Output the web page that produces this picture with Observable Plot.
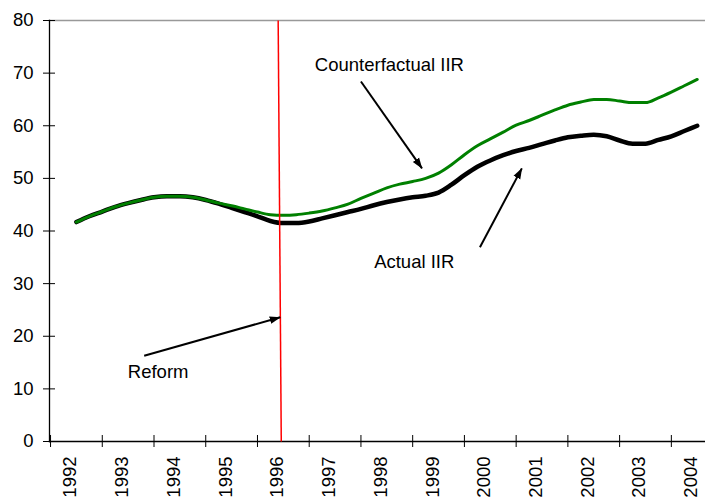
<!DOCTYPE html>
<html>
<head>
<meta charset="utf-8">
<script src="https://cdn.jsdelivr.net/npm/d3@7"></script>
<script src="https://cdn.jsdelivr.net/npm/@observablehq/plot@0.6"></script>
<style>
  body { margin: 0; background: #fff; }
  #chart svg { display: block; }
</style>
</head>
<body>
<div id="chart"></div>
<script>
// Time (quarterly positions) and the two series
const periods = [1992, 1992.25, 1992.5, 1992.75, 1993, 1993.25, 1993.5, 1993.75,
  1994, 1994.25, 1994.5, 1994.75, 1995, 1995.25, 1995.5, 1995.75,
  1996, 1996.25, 1996.5, 1996.75, 1997, 1997.25, 1997.5, 1997.75,
  1998, 1998.25, 1998.5, 1998.75, 1999, 1999.25, 1999.5, 1999.75,
  2000, 2000.25, 2000.5, 2000.75, 2001, 2001.25, 2001.5, 2001.75,
  2002, 2002.25, 2002.5, 2002.75, 2003, 2003.25, 2003.5, 2003.75, 2004];

const counterfactual = [41.7, 42.8, 43.7, 44.6, 45.3, 45.9, 46.4, 46.6,
  46.6, 46.4, 45.9, 45.3, 44.8, 44.2, 43.6, 43.1,
  43.0, 43.1, 43.4, 43.8, 44.4, 45.1, 46.2, 47.2,
  48.2, 48.9, 49.4, 50.0, 51.0, 52.6, 54.5, 56.2,
  57.5, 58.8, 60.1, 61.0, 62.0, 63.0, 63.9, 64.5,
  65.0, 65.0, 64.7, 64.4, 64.4, 65.3, 66.4, 67.6, 68.8];

const actual = [41.7, 42.8, 43.7, 44.6, 45.3, 45.9, 46.4, 46.6,
  46.6, 46.4, 45.9, 45.2, 44.4, 43.6, 42.8, 41.9,
  41.5, 41.5, 41.8, 42.4, 43.0, 43.6, 44.2, 44.9,
  45.5, 46.0, 46.4, 46.7, 47.3, 48.8, 50.6, 52.2,
  53.4, 54.4, 55.2, 55.8, 56.5, 57.2, 57.8, 58.1,
  58.3, 58.0, 57.2, 56.6, 56.6, 57.3, 58.0, 59.0, 60.0];

// Axis ticks and labels
const years = [1992, 1993, 1994, 1995, 1996, 1997, 1998, 1999, 2000, 2001, 2002, 2003, 2004];
const yearLabels = ["1992", "1993", "1994", "1995", "1996", "1997", "1998", "1999",
  "2000", "2001", "2002", "2003", "2004"];
const yearBoundaries = [1991.5, 1992.5, 1993.5, 1994.5, 1995.5, 1996.5, 1997.5, 1998.5,
  1999.5, 2000.5, 2001.5, 2002.5, 2003.5];
const yTicks = [0, 10, 20, 30, 40, 50, 60, 70, 80];

// Annotations (in data units)
const noteText = ["Counterfactual IIR", "Actual IIR", "Reform"];
const noteX = [1998.05, 1998.53, 1993.58];
const noteY = [71.6, 34.0, 13.1];
const arrowX1 = [1997.50, 1999.80, 1993.31];
const arrowY1 = [68.4, 36.9, 16.3];
const arrowX2 = [1998.68, 2000.61, 1995.94];
const arrowY2 = [51.9, 51.9, 23.6];
const reformYear = [1995.90, 1995.96]; // top, bottom of the hand-drawn reform line

const idx = periods.map((_, i) => i);
const noteIdx = noteText.map((_, i) => i);
const yearIdx = years.map((_, i) => i);
const FONT = 18.5;

function filledArrow(color) {
  return d3.create("svg:marker")
    .attr("viewBox", "0 -5 11 10")
    .attr("refX", 10.5)
    .attr("refY", 0)
    .attr("markerUnits", "userSpaceOnUse")
    .attr("markerWidth", 11)
    .attr("markerHeight", 10)
    .attr("orient", "auto")
    .attr("fill", color)
    .attr("stroke", "none")
    .call(m => m.append("path").attr("d", "M0,-3.8L11,0L0,3.8Z"))
    .node();
}

const chart = Plot.plot({
  width: 705,
  height: 500,
  marginTop: 20,
  marginBottom: 59,
  marginLeft: 49,
  marginRight: 0,
  style: {
    fontFamily: "'Liberation Sans', Arial, sans-serif",
    fontSize: FONT + "px",
    color: "black",
    background: "white"
  },
  x: { domain: [1991.48, 2004.16] },
  y: { domain: [0, 80] },
  marks: [
    Plot.frame({ anchor: "top", stroke: "#999", strokeWidth: 1.5 }),
    Plot.axisY({ ticks: yTicks, tickSize: 12, dx: 6, tickFormat: () => "", label: null, stroke: "black" }),
    Plot.axisY({ ticks: yTicks, tickSize: 0, tickPadding: 16, fontSize: FONT, label: null }),
    Plot.axisX({ ticks: yearBoundaries, tickSize: 12, dy: -6, tickFormat: () => "", label: null, stroke: "black" }),
    Plot.text(yearIdx, {
      x: i => years[i], text: i => yearLabels[i],
      frameAnchor: "bottom", rotate: -90, textAnchor: "end",
      dy: 15, fontSize: FONT, fill: "black"
    }),
    Plot.frame({ anchor: "left", stroke: "black", strokeWidth: 1.3 }),
    Plot.frame({ anchor: "bottom", stroke: "black", strokeWidth: 1.3 }),
    Plot.line(idx, {
      x: i => periods[i], y: i => actual[i],
      stroke: "black", strokeWidth: 4.5, curve: "monotone-x"
    }),
    Plot.line(idx, {
      x: i => periods[i], y: i => counterfactual[i],
      stroke: "#008000", strokeWidth: 3, curve: "monotone-x"
    }),
    Plot.link([0], {
      x1: () => reformYear[0], y1: () => 80,
      x2: () => reformYear[1], y2: () => 0,
      stroke: "#ff0000", strokeWidth: 1.5
    }),
    Plot.link(noteIdx, {
      x1: i => arrowX1[i], y1: i => arrowY1[i],
      x2: i => arrowX2[i], y2: i => arrowY2[i],
      stroke: "black", strokeWidth: 2, markerEnd: filledArrow
    }),
    Plot.text(noteIdx, {
      x: i => noteX[i], y: i => noteY[i], text: i => noteText[i],
      fontSize: FONT, fill: "black", textAnchor: "middle"
    })
  ]
});

document.getElementById("chart").appendChild(chart);
</script>
</body>
</html>
